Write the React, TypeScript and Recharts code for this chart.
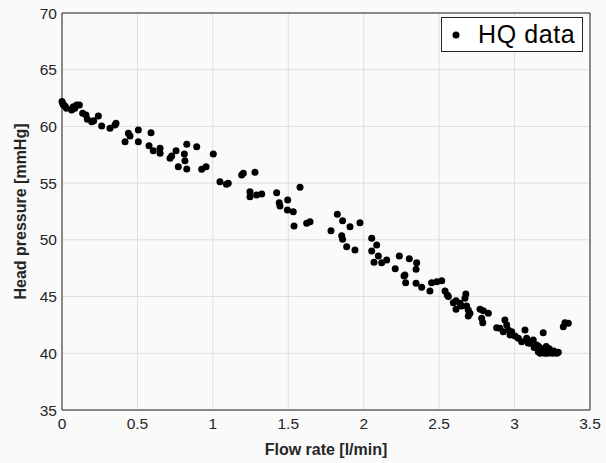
import {
  ScatterChart,
  Scatter,
  XAxis,
  YAxis,
  CartesianGrid,
  ReferenceArea,
} from "recharts";

// flow rate [l/min] of each measurement
const flowRate = [
  0.0, 0.005, 0.01, 0.02, 0.03, 0.064, 0.075, 0.085, 0.097, 0.115, 0.137, 0.159, 0.168, 0.197, 0.21,
  0.241, 0.263, 0.318, 0.351, 0.358, 0.418, 0.44, 0.451, 0.506, 0.506, 0.577, 0.59, 0.605, 0.65, 0.65,
  0.716, 0.727, 0.756, 0.771, 0.811, 0.815, 0.827, 0.827, 0.893, 0.926, 0.955, 1.003, 1.047, 1.09,
  1.102, 1.191, 1.202, 1.246, 1.246, 1.279, 1.29, 1.324, 1.423, 1.44, 1.445, 1.494, 1.496, 1.533,
  1.538, 1.578, 1.622, 1.644, 1.783, 1.825, 1.854, 1.86, 1.86, 1.887, 1.909, 1.942, 1.975, 2.053,
  2.053, 2.068, 2.086, 2.097, 2.119, 2.152, 2.209, 2.236, 2.267, 2.273, 2.278, 2.302, 2.347, 2.347,
  2.351, 2.384, 2.439, 2.45, 2.484, 2.517, 2.539, 2.554, 2.561, 2.594, 2.612, 2.612, 2.638, 2.649,
  2.671, 2.677, 2.682, 2.693, 2.693, 2.704, 2.771, 2.782, 2.789, 2.793, 2.826, 2.881, 2.903, 2.925,
  2.936, 2.948, 2.959, 2.97, 2.981, 3.003, 3.025, 3.047, 3.069, 3.08, 3.09, 3.102, 3.124, 3.13,
  3.147, 3.157, 3.16, 3.17, 3.18, 3.19, 3.19, 3.2, 3.21, 3.213, 3.22, 3.23, 3.246, 3.25, 3.26,
  3.268, 3.28, 3.29, 3.323, 3.334, 3.356,
];

// head pressure [mmHg], same order as flowRate
const headPressure = [
  62.2, 62.0, 61.9, 61.8, 61.6, 61.45, 61.74, 61.6, 61.89, 61.89, 61.16, 61.0, 60.63, 60.42, 60.5,
  60.92, 60.04, 59.84, 60.13, 60.28, 58.65, 59.4, 59.16, 59.69, 58.65, 58.3, 59.45, 57.86, 58.07, 57.63,
  57.19, 57.39, 57.86, 56.45, 57.57, 56.98, 58.42, 56.25, 58.21, 56.22, 56.45, 57.57, 55.13, 54.9,
  54.99, 55.72, 55.87, 54.25, 53.81, 55.96, 53.96, 54.04, 54.16, 53.28, 52.99, 52.63, 53.51, 52.48,
  51.22, 54.63, 51.46, 51.6, 50.81, 52.25, 50.37, 51.69, 50.05, 49.4, 51.16, 49.1, 51.51, 50.14,
  49.02, 48.02, 49.55, 48.58, 47.99, 48.22, 47.46, 48.58, 46.81, 46.9, 46.22, 48.34, 47.4, 46.17,
  47.99, 45.82, 45.49, 46.22, 46.31, 46.4, 45.49, 45.14, 45.0, 44.46, 44.64, 43.88, 44.41, 44.17,
  44.85, 45.23, 44.17, 43.82, 43.29, 43.53, 43.88, 43.09, 42.7, 43.76, 43.53, 42.26, 42.2, 41.9,
  42.93, 42.5, 42.05, 41.61, 41.9, 41.52, 41.32, 41.02, 42.05, 41.32, 40.9, 40.88, 41.17, 40.5,
  40.73, 40.14, 40.6, 40.0, 40.14, 41.82, 40.4, 40.0, 40.6, 40.14, 40.0, 40.4, 40.1, 40.0, 40.2,
  40.05, 40.0, 40.1, 42.34, 42.7, 42.65,
];

const xTicks = [0, 0.5, 1, 1.5, 2, 2.5, 3, 3.5];
const yTicks = [35, 40, 45, 50, 55, 60, 65, 70];

const FONT = '"Liberation Sans", Arial, Helvetica, sans-serif';
const AXIS_COLOR = "#262626";

const data = flowRate.map((x, i) => ({ x, y: headPressure[i] }));

const Dot = (props: any) => <circle cx={props.cx} cy={props.cy} r={3.5} fill="#000" />;

export default function App() {
  return (
    <div
      style={{
        position: "absolute",
        left: 0,
        top: 0,
        width: 606,
        height: 463,
        background: "#fafafa",
        fontFamily: FONT,
      }}
    >
      <ScatterChart width={606} height={463} margin={{ top: 13, right: 16, left: 0, bottom: 0 }}>
        <CartesianGrid stroke="#dedede" strokeWidth={1} fill="#fafafa" />
        <XAxis
          type="number"
          dataKey="x"
          domain={[0, 3.5]}
          ticks={xTicks}
          height={53}
          tickLine={false}
          axisLine={false}
          tick={{ fontSize: 15.5, fill: AXIS_COLOR, fontFamily: FONT }}
          label={{
            value: "Flow rate [l/min]",
            position: "insideBottom",
            offset: 8,
            style: { fontSize: 16, fontWeight: "bold", fill: AXIS_COLOR, fontFamily: FONT },
          }}
        />
        <YAxis
          type="number"
          dataKey="y"
          domain={[35, 70]}
          ticks={yTicks}
          width={62}
          tickLine={false}
          tickSize={3}
          axisLine={false}
          tick={{ fontSize: 15.5, fill: AXIS_COLOR, fontFamily: FONT }}
          label={{
            value: "Head pressure [mmHg]",
            angle: -90,
            position: "insideLeft",
            offset: 20,
            style: {
              textAnchor: "middle",
              fontSize: 16,
              fontWeight: "bold",
              fill: AXIS_COLOR,
              fontFamily: FONT,
            },
          }}
        />
        <ReferenceArea
          x1={0}
          x2={3.5}
          y1={35}
          y2={70}
          fill="none"
          fillOpacity={0}
          stroke={AXIS_COLOR}
          strokeWidth={1}
          ifOverflow="visible"
        />
        <Scatter data={data} shape={Dot} isAnimationActive={false} />
      </ScatterChart>
      <div
        style={{
          position: "absolute",
          left: 441,
          top: 17,
          width: 142,
          height: 35,
          background: "#fff",
          border: `1px solid ${AXIS_COLOR}`,
          display: "flex",
          alignItems: "center",
          boxSizing: "border-box",
        }}
      >
        <svg width={30} height={33} style={{ flex: "none" }}>
          <circle cx={14} cy={17} r={3.5} fill="#000" />
        </svg>
        <span style={{ fontSize: 25, color: "#000", marginLeft: 6, letterSpacing: 0.6 }}>HQ data</span>
      </div>
    </div>
  );
}
